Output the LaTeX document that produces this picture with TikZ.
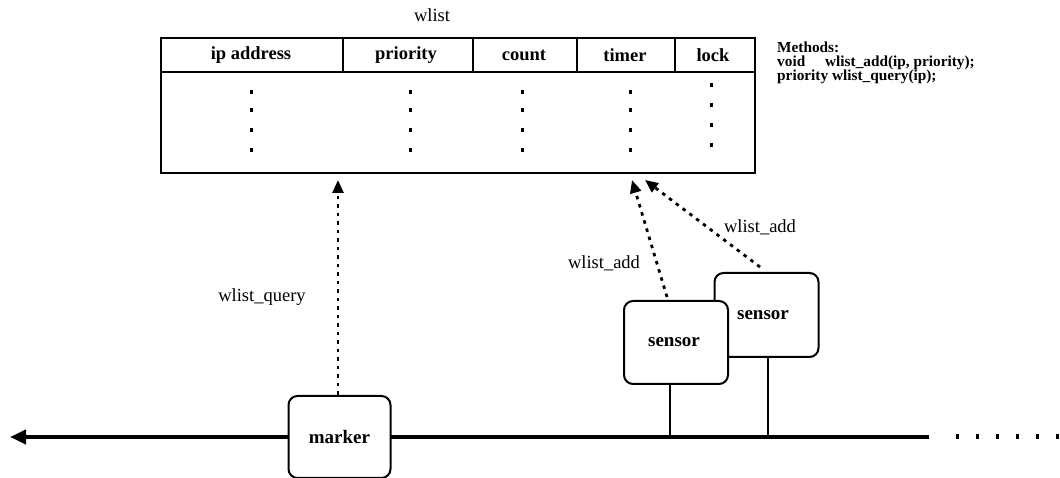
\documentclass[tikz,border=0pt]{standalone}
\usepackage{fontspec}
\setmainfont{Liberation Serif}
\usetikzlibrary{arrows.meta}
\begin{document}
\begin{tikzpicture}[x=1pt,y=1pt,
  hdr/.style={font=\fontsize{18.5}{20}\selectfont\bfseries},
  lbl/.style={font=\fontsize{18.5}{20}\selectfont},
  meth/.style={anchor=north west, inner sep=0pt, align=left,
    font=\fontsize{15.3}{14}\selectfont\bfseries},
  unittext/.style={font=\fontsize{19}{21}\selectfont\bfseries},
  unit/.style={draw, line width=2pt, rounded corners=9pt, fill=white, unittext},
  call/.style={line width=2.8pt, dash pattern=on 3.5pt off 5pt,
    -{Triangle[length=13pt,width=11pt]}},
  tap/.style={line width=1.6pt},
  rowdot/.style={fill=black},
]
\useasboundingbox (0,0) rectangle (1060,478);

% the wlist table
\node[draw, line width=2.6pt, minimum width=594pt, minimum height=135pt,
  inner sep=0pt] (tbl) at (458,372.5) {};
\node[lbl] (title) at (432,463) {wlist};
\draw[line width=2pt] (161,406) -- (755,406);
\foreach \x in {343,473,577,675}
  \draw[line width=2pt] (\x,440) -- (\x,406);
\node[hdr] (hip)   at (251,423) {ip address};
\node[hdr] (hpri)  at (406,423) {priority};
\node[hdr] (hcnt)  at (524,423) {count};
\node[hdr] (htim)  at (625,423) {timer};
\node[hdr] (hlck)  at (713,423) {lock};
% vertical ellipsis in each column
\foreach \x in {251,410,522,630}
  \foreach \y in {386,368,348,328}
    \fill[rowdot] (\x-1.5,\y-2) rectangle (\x+1.5,\y+2);
\foreach \y in {393,373,353,333}
  \fill[rowdot] (711-1.5,\y-2) rectangle (711+1.5,\y+2);

% method list
\node[meth] (methods) at (777,436)
  {Methods:\\void\hspace{1.3em}wlist\_add(ip, priority);\\priority wlist\_query(ip);};

% bus line with trailing dots
\coordinate (busend) at (929,41);
\coordinate (busleft) at (10,41);
\draw[line width=4pt, -{Triangle[length=16pt,width=14pt]}] (busend) -- (busleft);
\foreach \x in {957,977,997,1017,1037,1057}
  \fill (\x-1.5,38.5) rectangle (\x+1.5,43.5);

% marker on the bus
\node[unit, minimum width=102pt, minimum height=82pt] (marker) at (339.5,41) {marker};

% sensors
\node[unit, minimum width=104pt, minimum height=84pt] (sensorB) at (766.5,163) {};
\node[unittext] (sensorBtext) at (763,163) {sensor};
\node[unit, minimum width=104pt, minimum height=83pt] (sensorA) at (676,135.5) {};
\node[unittext] (sensorAtext) at (674,136) {sensor};
\coordinate (tapA) at (670,41);
\coordinate (tapB) at (768,41);
\draw[tap] (sensorA.south -| tapA) -- (tapA);
\draw[tap] (sensorB.south -| tapB) -- (tapB);

% calls into the table
\coordinate (qtip) at (338,298);
\coordinate (atipA) at (632,298);
\coordinate (atipB) at (645,298);
\draw[call] (marker.north -| qtip) -- (qtip);
\draw[call] (667,181) -- (atipA);
\draw[call] (760,211) -- (atipB);
\node[lbl] (qlabel) at (262,181) {wlist\_query};
\node[lbl] (alabelA) at (604,215) {wlist\_add};
\node[lbl] (alabelB) at (760,251) {wlist\_add};
\end{tikzpicture}
\end{document}
